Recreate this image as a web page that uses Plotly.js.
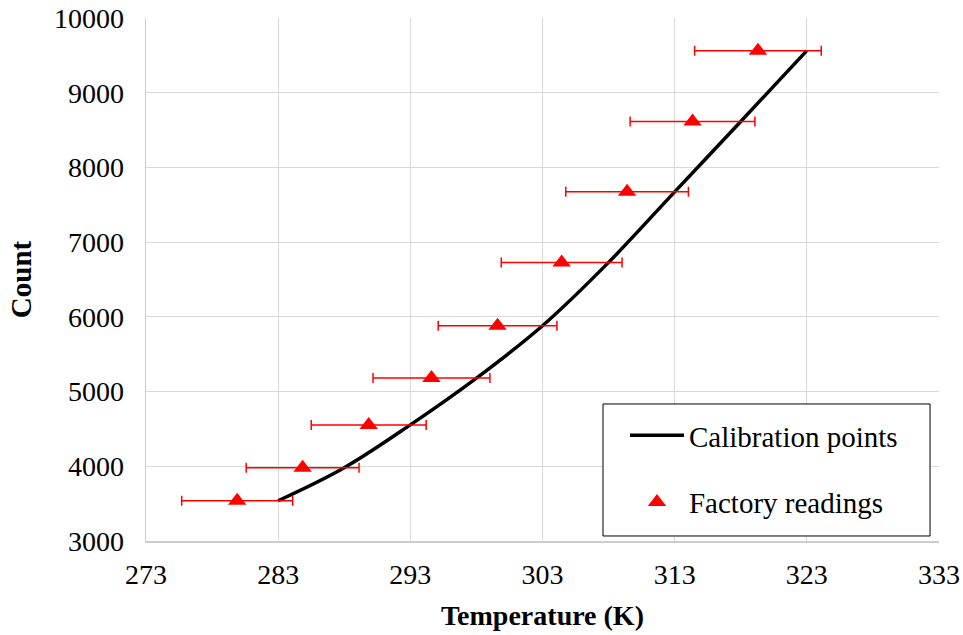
<!DOCTYPE html>
<html>
<head>
<meta charset="utf-8">
<script src="https://cdn.plot.ly/plotly-3.0.1.min.js"></script>
<style>html,body{margin:0;padding:0;background:#fff;}#chart{width:963px;height:635px;}</style>
</head>
<body>
<div id="chart"></div>
<script>
// Calibration points
const calibTemp = [283, 288, 293, 298, 303, 308, 313, 318, 323];
const counts = [3539, 3981, 4554, 5180, 5881, 6729, 7673, 8615, 9563];
// Factory readings
const factoryTemp = [279.9, 284.85, 289.85, 294.6, 299.6, 304.45, 309.4, 314.35, 319.3];
const factoryErr = [4.2, 4.27, 4.35, 4.42, 4.49, 4.57, 4.64, 4.72, 4.79];
const xTicks = [273, 283, 293, 303, 313, 323, 333];
const yTicks = [3000, 4000, 5000, 6000, 7000, 8000, 9000, 10000];

const FONT = 'Liberation Serif, Times New Roman, serif';

const traces = [
  {
    x: calibTemp, y: counts, type: 'scatter', mode: 'lines',
    name: 'Calibration points',
    line: {color: '#000000', width: 3.5, shape: 'spline', smoothing: 1},
    legendgroup: 'a'
  },
  {
    x: factoryTemp, y: counts, type: 'scatter', mode: 'markers',
    name: 'Factory readings',
    marker: {symbol: 'triangle-up', color: '#ff0000', size: 16},
    error_x: {type: 'data', array: factoryErr, visible: true, color: '#ff0000', thickness: 1.5, width: 5},
    legendgroup: 'b'
  }
];

const layout = {
  width: 963, height: 635,
  margin: {l: 146, r: 24, t: 18, b: 94},
  paper_bgcolor: '#ffffff', plot_bgcolor: '#ffffff',
  font: {family: FONT, color: '#000000', size: 28},
  showlegend: true,
  legend: {
    x: 0.604, y: 0.2505, xanchor: 'left', yanchor: 'top',
    borderwidth: 0, bgcolor: 'rgba(0,0,0,0)',
    font: {family: FONT, size: 29, color: '#000000'},
    itemwidth: 54, tracegroupgap: 26
  },
  shapes: [{
    type: 'rect', xref: 'paper', yref: 'paper',
    x0: 0.5763, x1: 0.9887, y0: 0.0096, y1: 0.262,
    fillcolor: '#ffffff', line: {color: '#000000', width: 1}, layer: 'above'
  }],
  xaxis: {
    range: [273, 333], tickvals: xTicks, ticktext: xTicks.map(String),
    showgrid: true, gridcolor: '#d9d9d9', gridwidth: 1,
    showline: true, linecolor: '#cccccc', linewidth: 1.5,
    zeroline: false, ticks: '', ticklen: 0, ticklabelstandoff: 8,
    tickfont: {family: FONT, size: 28, color: '#000000'},
    title: {text: '<b>Temperature (K)</b>', font: {family: FONT, size: 28, color: '#000000'}, standoff: 16}
  },
  yaxis: {
    range: [3000, 10000], tickvals: yTicks, ticktext: yTicks.map(String),
    showgrid: true, gridcolor: '#d9d9d9', gridwidth: 1,
    showline: true, linecolor: '#cccccc', linewidth: 1.5,
    zeroline: false, ticks: '', ticklen: 0, ticklabelstandoff: 15,
    tickfont: {family: FONT, size: 28, color: '#000000'},
    title: {text: '<b>Count</b>', font: {family: FONT, size: 29, color: '#000000'}, standoff: 14}
  }
};

Plotly.newPlot('chart', traces, layout, {displayModeBar: false, staticPlot: true});
</script>
</body>
</html>
